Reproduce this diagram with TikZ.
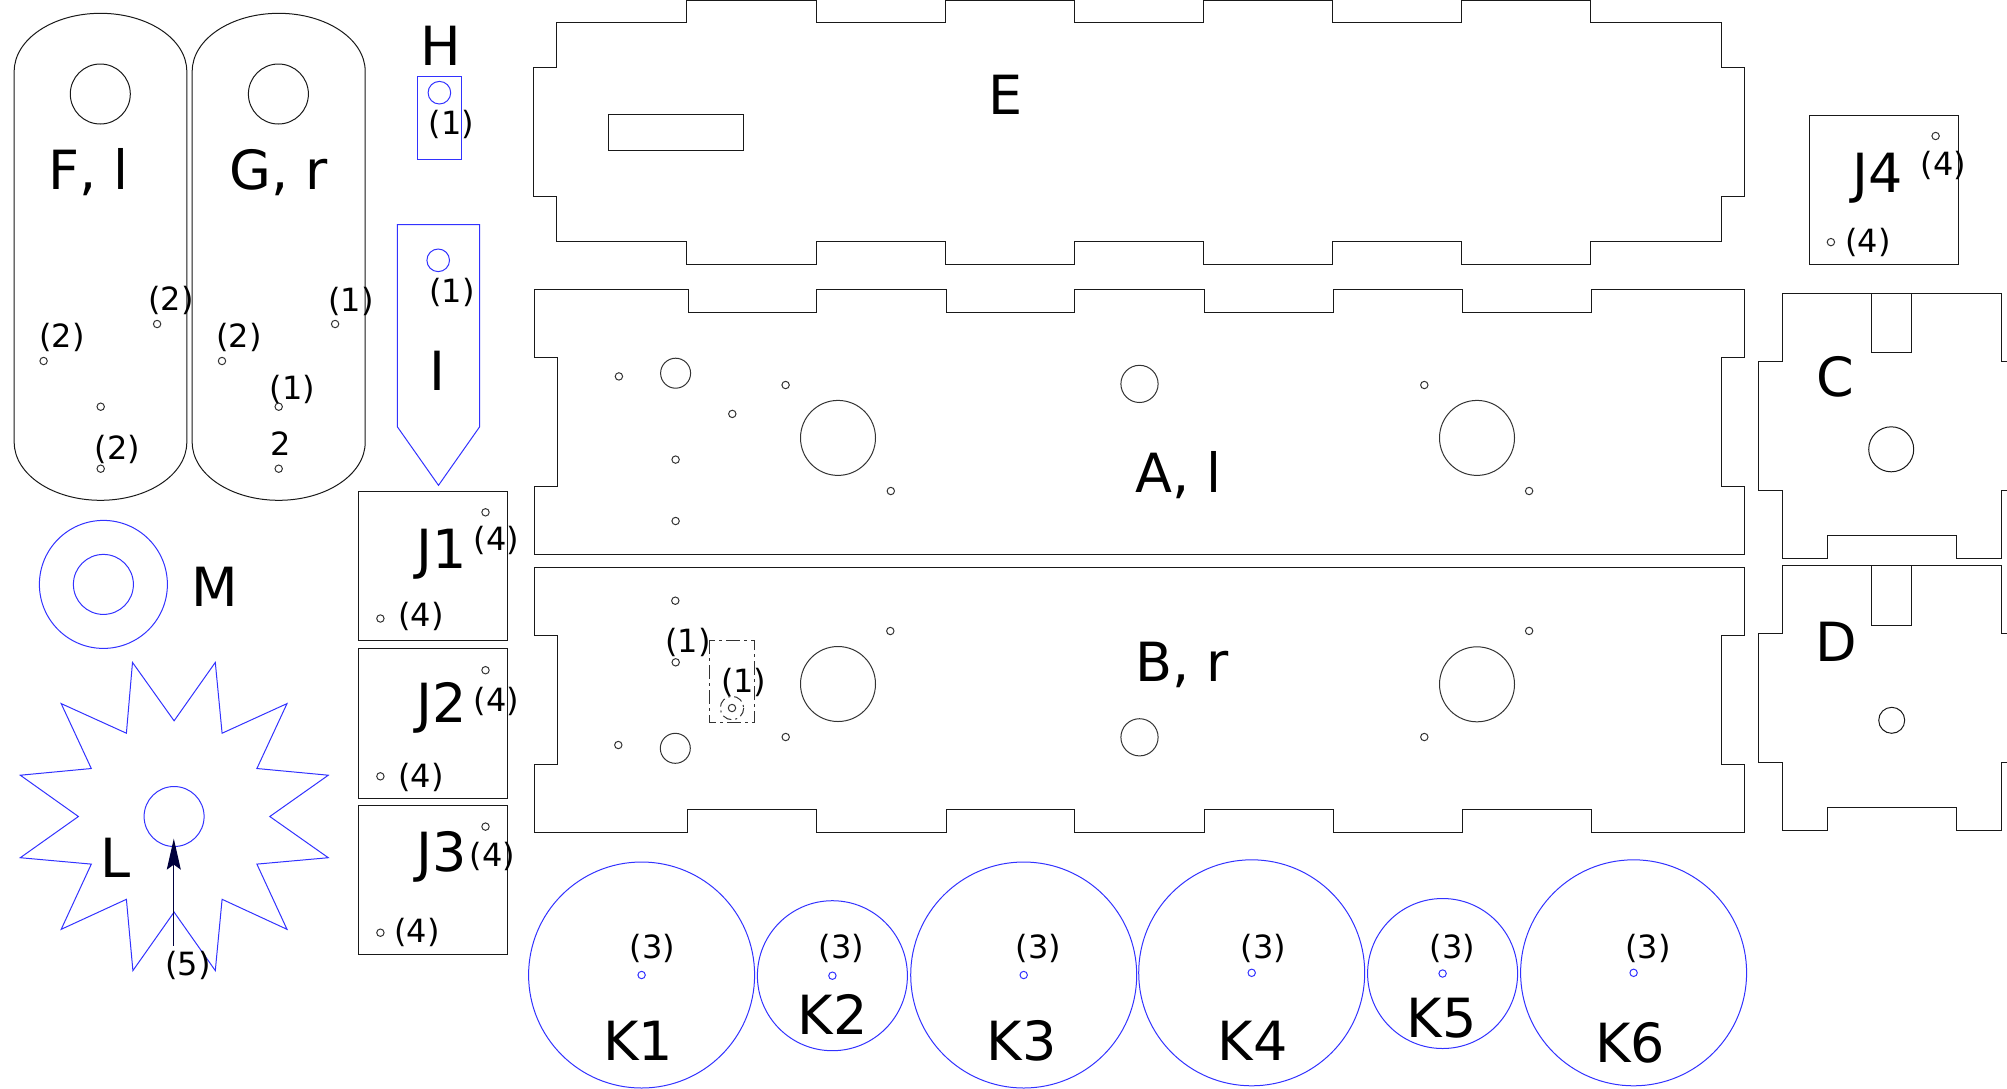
\documentclass[tikz,border=0pt]{standalone}
\usepackage{fontspec}
\setmainfont{DejaVu Sans}
\usetikzlibrary{arrows.meta}
\definecolor{cutblue}{RGB}{50,50,255}
\definecolor{arrownavy}{RGB}{0,0,60}
\tikzset{
	part/.style={draw=black!90,line width=1pt,line join=miter},
	bluepart/.style={draw=cutblue,line width=1pt},
	hole/.style={draw=black!80,line width=1pt},
	bigtext/.style={anchor=base,inner sep=0pt,font=\fontsize{54}{60}\selectfont},
	smalltext/.style={anchor=base,inner sep=0pt,font=\fontsize{32}{36}\selectfont},
}
\begin{document}
\begin{tikzpicture}[x=1pt,y=-1pt]
\useasboundingbox (0,0) rectangle (2007,1088);
\clip (0,0) rectangle (2007,1088);

% side plates
\foreach \xl/\xr in {14.2/186.8,192.2/365.2}{
	\draw[part] (\xl,71.3) arc[start angle=180,end angle=360,x radius={(\xr-\xl)/2},y radius=58] -- (\xr,442.3)
		arc[start angle=0,end angle=180,x radius={(\xr-\xl)/2},y radius=58] -- cycle;
}
\foreach \i in {100.3,278.4}{
	\draw[part] (\i,94) circle (30);
}
\foreach \i/\j in {157.1/324,43.6/361,100.7/406.7,100.7/468.7,335.1/324,222/361,278.7/406.7,278.7/468.7}{
	\draw[hole] (\i,\j) circle (3.7);
}

% H and I
\draw[bluepart] (417.2,76.3) rectangle (461.6,159);
\draw[bluepart] (439.4,92.7) circle (11.3);
\draw[bluepart] (397.3,224.7) -- (479.7,224.7) -- (479.7,426.7) -- (438.5,485.3) -- (397.3,426.7) -- cycle;
\draw[bluepart] (438.2,260.3) circle (11.3);

% J plates
\foreach \y/\h in {491.3/640.2,648.9/798,805.2/954.5}{
	\draw[part] (358.1,\y) rectangle (507.8,\h);
}
\foreach \i/\j in {485.5/512.3,380.4/618.5,485.5/670.2,380.4/776.3,485.5/826.6,380.4/932.7,1935.6/136,1830.9/242.1}{
	\draw[hole] (\i,\j) circle (3.7);
}
\draw[part] (1809.1,115) rectangle (1958.8,264.3);

% M and L
\draw[bluepart] (103.4,584.4) circle (64);
\draw[bluepart] (103.4,584.4) circle (30);
\draw[bluepart] (132.5,662.4) -- (174.1,720.8) -- (215.3,662.4) -- (222.1,733.2) -- (287,703.6) -- (256.9,768.5)
	-- (328.3,775.2) -- (269.8,816.5) -- (328.3,857.7) -- (256.9,864.1) -- (287,929.3) -- (222.1,899.3)
	-- (215.3,970.6) -- (174.1,912.1) -- (132.9,970.6) -- (126.4,899.3) -- (61.2,929.3) -- (91.3,864.1)
	-- (20.3,857.7) -- (78.4,816.5) -- (20.3,775.2) -- (91.3,768.5) -- (61.2,703.6) -- (126.4,733.2) -- cycle;
\draw[bluepart] (174.1,816.5) circle (30);
\coordinate (arrowL0) at (173.8,945.5);
\coordinate (arrowL1) at (173.8,838.6);
\draw[arrownavy,line width=1.1pt,-{Stealth[length=31pt,width=14pt,inset=5pt]}] (arrowL0) -- (arrowL1);

% E
\draw[part] (556.4,22.5) -- (686.7,22.5) -- (686.7,.5) -- (816.2,.5) -- (816.2,22.5) -- (945.1,22.5) -- (945.1,.5)
	-- (1074,.5) -- (1074,22.5) -- (1203.5,22.5) -- (1203.5,.5) -- (1332.1,.5) -- (1332.1,22.5) -- (1461.5,22.5)
	-- (1461.5,.5) -- (1590.4,.5) -- (1590.4,22.5) -- (1721.3,22.5) -- (1721.3,67.5) -- (1744,67.5) -- (1744,196.4)
	-- (1721.3,196.4) -- (1721.3,241.8) -- (1590.4,241.8) -- (1590.4,264.6) -- (1461.5,264.6) -- (1461.5,241.8)
	-- (1332.1,241.8) -- (1332.1,264.6) -- (1203.5,264.6) -- (1203.5,241.8) -- (1074,241.8) -- (1074,264.6)
	-- (945.1,264.6) -- (945.1,241.8) -- (816.2,241.8) -- (816.2,264.6) -- (686.7,264.6) -- (686.7,241.8)
	-- (556.4,241.8) -- (556.4,196.4) -- (533.6,196.4) -- (533.6,67.5) -- (556.4,67.5) -- cycle;
\draw[part] (608.2,114.3) rectangle (743,150.4);

% A
\draw[part] (534.5,289.6) -- (688.2,289.6) -- (688.2,312.1) -- (816.7,312.1) -- (816.7,289.6) -- (946,289.6) -- (946,312.1)
	-- (1074.5,312.1) -- (1074.5,289.6) -- (1204,289.6) -- (1204,312.1) -- (1333,312.1) -- (1333,289.6) -- (1462,289.6)
	-- (1462,312.1) -- (1591.4,312.1) -- (1591.4,289.6) -- (1744.4,289.6) -- (1744.4,357.1) -- (1721.8,357.1)
	-- (1721.8,486.4) -- (1744.4,486.4) -- (1744.4,554.3) -- (534.5,554.3) -- (534.5,486.4) -- (557.3,486.4)
	-- (557.3,357.1) -- (534.5,357.1) -- cycle;
\foreach \i/\j/\r in {618.9/376.4/3.7,675.6/373.2/15,785.6/385/3.7,732.3/413.9/3.7,675.6/459.6/3.7,675.6/521/3.7,838/437.9/37.5,890.8/491/3.7,1139.5/383.9/18.6,1424.3/385/3.7,1477/437.9/37.5,1529.1/491/3.7}{
	\draw[hole] (\i,\j) circle (\r);
}

% B
\draw[part] (534,567.7) -- (1744.4,567.7) -- (1744.4,635.5) -- (1721.8,635.5) -- (1721.8,764.6) -- (1744.4,764.6) -- (1744.4,832.4)
	-- (1591.4,832.4) -- (1591.4,809.6) -- (1462,809.6) -- (1462,832.4) -- (1333,832.4) -- (1333,809.6) -- (1204,809.6)
	-- (1204,832.4) -- (1074.5,832.4) -- (1074.5,809.6) -- (946,809.6) -- (946,832.4) -- (816.3,832.4) -- (816.3,809.6)
	-- (687.7,809.6) -- (687.7,832.4) -- (534,832.4) -- (534,764.6) -- (557,764.6) -- (557,635.5) -- (534,635.5) -- cycle;
\foreach \i/\j/\r in {675.3/600.7/3.7,675.7/662.3/3.7,732/708/3.7,618.3/745/3.7,675.3/748.3/15,785.7/737/3.7,838/684/37.5,890.3/631/3.7,1139.5/737.3/18.6,1529.1/630.9/3.7,1477/684.3/37.5,1424.3/737/3.7}{
	\draw[hole] (\i,\j) circle (\r);
}
\draw[hole,dash pattern=on 14pt off 4pt on 3pt off 4pt] (709.3,640) rectangle (754.7,722.3);
\draw[hole,dash pattern=on 9pt off 4pt on 2pt off 4pt] (732,708) circle (11.7);

% C and D
\foreach \t/\a/\b/\c/\d/\s in {293.2/361/490/535.4/558.2/352.9,565.2/633.2/762.1/807.4/830.2/625.4}{
	\draw[part] (1782.1,\t) -- (2001.8,\t) -- (2001.8,\a) -- (2025,\a) -- (2025,\b) -- (2001.8,\b) -- (2001.8,\d)
		-- (1956.4,\d) -- (1956.4,\c) -- (1827,\c) -- (1827,\d) -- (1782.1,\d) -- (1782.1,\b) -- (1758.9,\b)
		-- (1758.9,\a) -- (1782.1,\a) -- cycle;
	\draw[part] (1871.9,\t) rectangle (1911,\s);
}
\draw[part] (1891.2,449.3) circle (22.5);
\draw[part] (1891.7,720.3) circle (13);

% K wheels
\foreach \i/\j/\r in {641.6/975/113,832.4/975.7/75,1023.7/975/113,1251.7/972.8/113,1442.6/973.5/75,1633.6/972.8/113}{
	\draw[bluepart] (\i,\j) circle (\r);
	\draw[bluepart] (\i,\j) circle (3.7);
}

% big labels
\foreach \nm/\txt/\i/\j in {F/{F, l}/88.7/189.5,G/{G, r}/278.7/189.5,H/H/440.6/65,I/I/437/390.7,M/M/214.5/606.7,L/L/115.5/877.3,
	Jone/J1/442/568.5,Jtwo/J2/442/722.2,Jthree/J3/442/871.5,Jfour/J4/1878/192,E/E/1006/114.6,A/{A, l}/1178.5/492.5,B/{B, r}/1182/681.5,C/C/1835/396,D/D/1836.7/661.4,
	Kone/K1/638/1060,Ktwo/K2/832.5/1034.3,Kthree/K3/1021.5/1060,Kfour/K4/1252.6/1060,Kfive/K5/1441.5/1037.3,Ksix/K6/1630/1062}{
	\node[bigtext] (lab\nm) at (\i,\j) {\txt};
}

% counts
\foreach \nm/\txt/\i/\j in {a/(2)/171/310,b/(2)/62/347,c/(2)/117.5/459,d/(1)/351/311,e/(2)/239/347,f/(1)/292.5/399,g/2/280.7/455.3,h/(1)/451.5/134,i/(1)/452/302.7,
	j/(4)/496.6/550,k/(4)/421/626.6,l/(4)/496.6/711.9,m/(4)/421/787.3,n/(4)/492.4/866,o/(4)/417/942.5,p/(4)/1943.4/175.7,q/(4)/1868/252,r/(5)/188/975.4,
	s/(1)/688/652.2,t/(1)/743.8/692.3,u/(3)/652.6/958,v/(3)/841.6/958,w/(3)/1038.4/958,x/(3)/1263.5/958,y/(3)/1452.3/958,z/(3)/1648/958}{
	\node[smalltext] (cnt\nm) at (\i,\j) {\txt};
}
\end{tikzpicture}
\end{document}
